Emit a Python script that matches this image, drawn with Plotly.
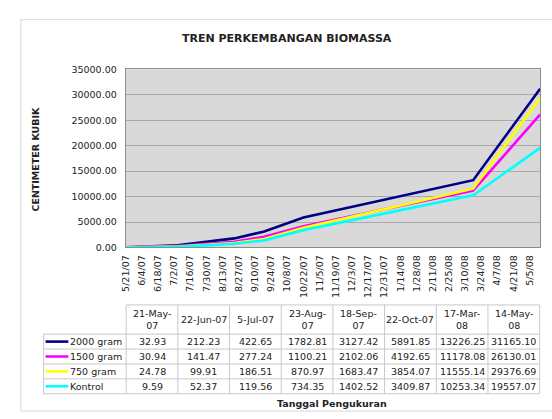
import plotly.graph_objects as go

# measurement dates and the values of each treatment
dates = ['2007-05-21', '2007-06-22', '2007-07-05', '2007-08-23',
         '2007-09-18', '2007-10-22', '2008-03-17', '2008-05-14']
date_labels = ['21-May-<br>07', '22-Jun-07', '5-Jul-07', '23-Aug-<br>07',
               '18-Sep-<br>07', '22-Oct-07', '17-Mar-<br>08', '14-May-<br>08']

series_names = ['2000 gram', '1500 gram', '750 gram', 'Kontrol']
g2000 = [32.93, 212.23, 422.65, 1782.81, 3127.42, 5891.85, 13226.25, 31165.10]
g1500 = [30.94, 141.47, 277.24, 1100.21, 2102.06, 4192.65, 11178.08, 26130.01]
g750 = [24.78, 99.91, 186.51, 870.97, 1683.47, 3854.07, 11555.14, 29376.69]
kontrol = [9.59, 52.37, 119.56, 734.35, 1402.52, 3409.87, 10253.34, 19557.07]
series_values = [g2000, g1500, g750, kontrol]
colors = ['#000080', '#FF00FF', '#FFFF00', '#00FFFF']

W, H = 552, 419
FONT = 'DejaVu Sans'
GRID = '#c8c8c8'


def px(x):
    return x / W


def py(y):
    return 1 - y / H


def label(text, x, y, size=9.5, xanchor='center', angle=0):
    return dict(text=text, xref='paper', yref='paper', x=px(x), y=py(y),
                xanchor=xanchor, yanchor='middle', textangle=angle,
                showarrow=False, font=dict(size=size))


fig = go.Figure()

for name, vals, col in zip(series_names, series_values, colors):
    fig.add_trace(go.Scatter(x=dates, y=vals, name=name, mode='lines',
                             line=dict(color=col, width=2.6), showlegend=False))

# data table under the chart, built from shapes + annotations
lab_left = 38
tab_left, tab_right = 121.5, 539.5
tab_top, head_h, row_h = 307, 30, 15.3
col_w = (tab_right - tab_left) / len(dates)
body_top = tab_top + head_h
tab_bottom = body_top + row_h * len(series_names)

shapes = [dict(type='rect', xref='paper', yref='paper',
               x0=px(15), x1=px(600), y0=py(416), y1=py(14),
               line=dict(color='#d8d8d8', width=1), layer='below')]
annotations = []


def hline(y, x0, x1):
    shapes.append(dict(type='line', xref='paper', yref='paper',
                       x0=px(x0), x1=px(x1), y0=py(y), y1=py(y),
                       line=dict(color=GRID, width=1)))


def vline(x, y0, y1):
    shapes.append(dict(type='line', xref='paper', yref='paper',
                       x0=px(x), x1=px(x), y0=py(y0), y1=py(y1),
                       line=dict(color=GRID, width=1)))


hline(tab_top, tab_left, tab_right)
for r in range(len(series_names) + 1):
    hline(body_top + r * row_h, lab_left, tab_right)
vline(lab_left, body_top, tab_bottom)
for c in range(len(dates) + 1):
    vline(tab_left + c * col_w, tab_top, tab_bottom)

for c, lab in enumerate(date_labels):
    annotations.append(label(lab, tab_left + (c + 0.5) * col_w,
                             tab_top + head_h / 2))

for r, (name, vals, col) in enumerate(zip(series_names, series_values, colors)):
    yc = body_top + row_h * (r + 0.5)
    shapes.append(dict(type='line', xref='paper', yref='paper',
                       x0=px(40), x1=px(63), y0=py(yc), y1=py(yc),
                       line=dict(color=col, width=2.6)))
    annotations.append(label(name, 63, yc, xanchor='left'))
    for c, v in enumerate(vals):
        annotations.append(label('%.2f' % v, tab_left + (c + 0.5) * col_w, yc))

annotations += [
    label('<b>TREN PERKEMBANGAN BIOMASSA</b>', 284, 33, size=11),
    label('<b>CENTIMETER KUBIK</b>', 30, 157, angle=-90),
    label('<b>Tanggal Pengukuran</b>', 330, 408),
]

fig.update_layout(
    width=W, height=H,
    margin=dict(l=0, r=0, t=0, b=0),
    paper_bgcolor='white',
    plot_bgcolor='#d9d9d9',
    font=dict(family=FONT, size=9.5, color='#222'),
    shapes=shapes,
    annotations=annotations,
    xaxis=dict(domain=[px(121), px(540)], type='date',
               range=['2007-05-21', '2008-05-14'],
               tick0='2007-05-21', dtick=14 * 86400000,
               tickformat='%-m/%-d/%y', tickangle=-90,
               showgrid=False, zeroline=False,
               showline=True, mirror=True, linecolor='#8c8c8c',
               ticklabelstandoff=3),
    yaxis=dict(domain=[py(248), py(65)], range=[0, 35000], dtick=5000,
               tickformat='.2f', gridcolor='#a8a8a8', zeroline=False,
               showline=True, mirror=True, linecolor='#8c8c8c',
               ticklabelstandoff=6),
)

fig.write_html('out.html', config={'displayModeBar': False},
               post_script="document.body.style.margin='0';"
                           "document.body.style.overflow='hidden';")
